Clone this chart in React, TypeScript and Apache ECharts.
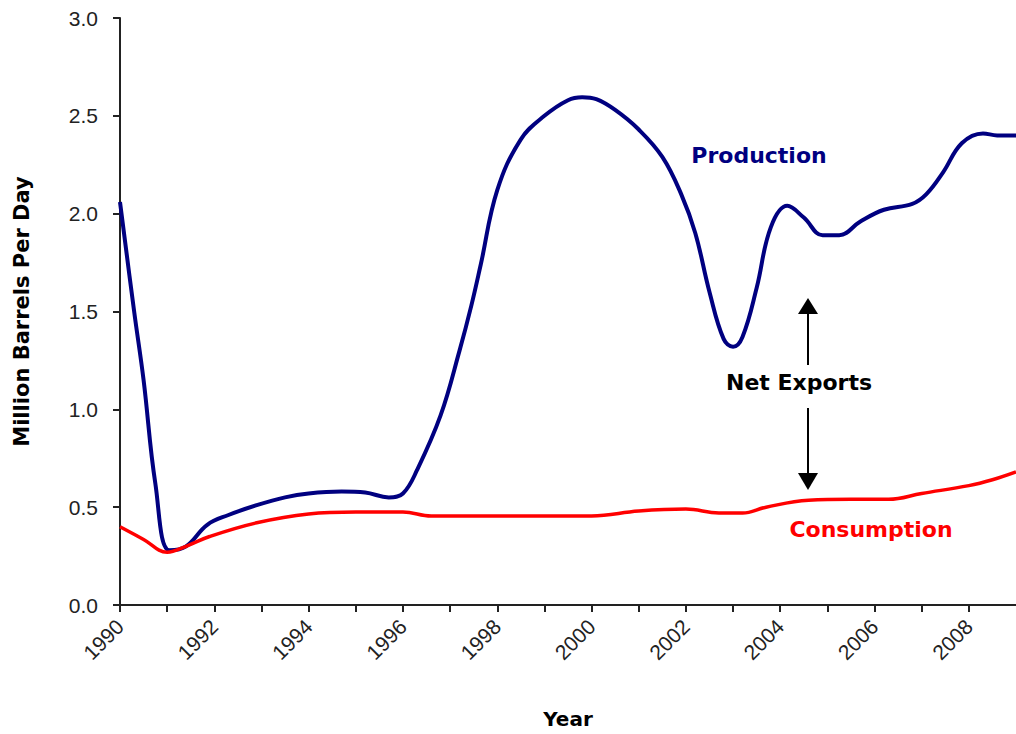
import React, { useEffect, useRef } from "react";
import * as echarts from "echarts";

const yearTicks = [1990, 1992, 1994, 1996, 1998, 2000, 2002, 2004, 2006, 2008];

const prodYears = [
  1990.0, 1990.3, 1990.5, 1990.75, 1991.05, 1991.4, 1991.85, 1992.3, 1992.9, 1993.5,
  1994.0, 1994.7, 1995.2, 1995.7, 1996.0, 1996.3, 1996.8, 1997.2, 1997.45, 1997.65,
  1998.0, 1998.5, 1999.0, 1999.5, 1999.8, 2000.1, 2000.5, 2001.0, 2001.5,
  2001.9, 2002.2, 2002.5, 2002.8, 2003.0, 2003.2, 2003.5, 2003.8, 2004.15, 2004.5,
  2004.9, 2005.25, 2005.7, 2006.2, 2006.8, 2007.1, 2007.45, 2007.85, 2008.3, 2008.6,
  2009.0,
];
const prodValues = [
  2.06, 1.5, 1.15, 0.62, 0.28, 0.3, 0.41, 0.46, 0.51, 0.55,
  0.57, 0.58, 0.575, 0.55, 0.57, 0.69, 0.97, 1.3, 1.53, 1.74,
  2.12, 2.38, 2.5, 2.58, 2.595, 2.585, 2.53, 2.43, 2.29,
  2.1, 1.9, 1.6, 1.36, 1.32, 1.37, 1.62, 1.93, 2.04, 1.98,
  1.89, 1.89, 1.96, 2.02, 2.05, 2.1, 2.21, 2.36, 2.41, 2.4,
  2.4,
];

const consYears = [
  1990.0, 1990.5, 1991.0, 1991.4, 1991.9, 1992.9, 1994.0, 1995.0, 1996.0, 1996.6,
  1997.5, 1999.0, 2000.0, 2001.0, 2002.0, 2002.7, 2003.2, 2003.7, 2004.6, 2005.5,
  2006.3, 2007.0, 2008.0, 2008.5, 2009.0,
];
const consValues = [
  0.4, 0.335, 0.27, 0.3, 0.35, 0.42, 0.465, 0.475, 0.475, 0.455,
  0.455, 0.455, 0.455, 0.48, 0.49, 0.47, 0.47, 0.5, 0.535, 0.54,
  0.54, 0.57, 0.61, 0.64, 0.68,
];

const BOLD = "DejaVu Sans";
const TICKFONT = "Liberation Sans";

export default function App() {
  const ref = useRef<HTMLDivElement>(null);
  useEffect(() => {
    if (!ref.current) return;
    const chart = echarts.init(ref.current, null, { renderer: "svg" });
    const prod = prodYears.map((y, i) => [y, prodValues[i]]);
    const cons = consYears.map((y, i) => [y, consValues[i]]);
    chart.setOption({
      animation: false,
      backgroundColor: "#ffffff",
      grid: { left: 120, width: 896, top: 18, height: 587, containLabel: false },
      xAxis: {
        type: "value",
        min: 1990,
        max: 2009,
        interval: 1,
        name: "Year",
        nameLocation: "middle",
        nameGap: 104,
        nameTextStyle: { fontFamily: BOLD, fontWeight: "bold", fontSize: 20, color: "#000" },
        axisLine: { show: true, lineStyle: { color: "#222", width: 2 } },
        axisTick: { show: true, length: 7, lineStyle: { color: "#222", width: 2 } },
        splitLine: { show: false },
        axisLabel: {
          rotate: 45,
          margin: 18,
          fontFamily: TICKFONT,
          fontSize: 21,
          color: "#222",
          showMaxLabel: false,
          formatter: (v: number) => (yearTicks.includes(Math.round(v)) ? String(Math.round(v)) : ""),
        },
      },
      yAxis: {
        type: "value",
        min: 0,
        max: 3,
        interval: 0.5,
        name: "Million Barrels Per Day",
        nameLocation: "middle",
        nameGap: 88,
        nameRotate: 90,
        nameTextStyle: { fontFamily: BOLD, fontWeight: "bold", fontSize: 21, color: "#000" },
        axisLine: { show: true, lineStyle: { color: "#222", width: 2 } },
        axisTick: { show: true, length: 7, lineStyle: { color: "#222", width: 2 } },
        splitLine: { show: false },
        axisLabel: {
          margin: 22,
          fontFamily: TICKFONT,
          fontSize: 21,
          color: "#222",
          formatter: (v: number) => v.toFixed(1),
        },
      },
      series: [
        {
          name: "Production",
          type: "line",
          data: prod,
          smooth: 0.4,
          symbol: "none",
          clip: false,
          lineStyle: { color: "#000080", width: 4 },
        },
        {
          name: "Consumption",
          type: "line",
          data: cons,
          smooth: 0.4,
          symbol: "none",
          clip: false,
          lineStyle: { color: "#ff0000", width: 3.5 },
        },
      ],
      graphic: [
        {
          type: "text",
          x: 759,
          y: 155,
          style: {
            text: "Production",
            fill: "#000080",
            font: `bold 22px "${BOLD}"`,
            textAlign: "center",
            textVerticalAlign: "middle",
          },
        },
        {
          type: "text",
          x: 871,
          y: 529,
          style: {
            text: "Consumption",
            fill: "#ff0000",
            font: `bold 22px "${BOLD}"`,
            textAlign: "center",
            textVerticalAlign: "middle",
          },
        },
        {
          type: "text",
          x: 799,
          y: 382,
          style: {
            text: "Net Exports",
            fill: "#000000",
            font: `bold 22px "${BOLD}"`,
            textAlign: "center",
            textVerticalAlign: "middle",
          },
        },
        { type: "line", shape: { x1: 808, y1: 312, x2: 808, y2: 365 }, style: { stroke: "#000", lineWidth: 2 } },
        { type: "polygon", shape: { points: [[808, 298], [798, 314], [818, 314]] }, style: { fill: "#000" } },
        { type: "line", shape: { x1: 808, y1: 408, x2: 808, y2: 475 }, style: { stroke: "#000", lineWidth: 2 } },
        { type: "polygon", shape: { points: [[808, 490], [798, 473], [818, 473]] }, style: { fill: "#000" } },
      ],
    });
    return () => chart.dispose();
  }, []);
  return (
    <div
      ref={ref}
      style={{ position: "fixed", left: 0, top: 0, width: 1016, height: 734, background: "#fff" }}
    />
  );
}
